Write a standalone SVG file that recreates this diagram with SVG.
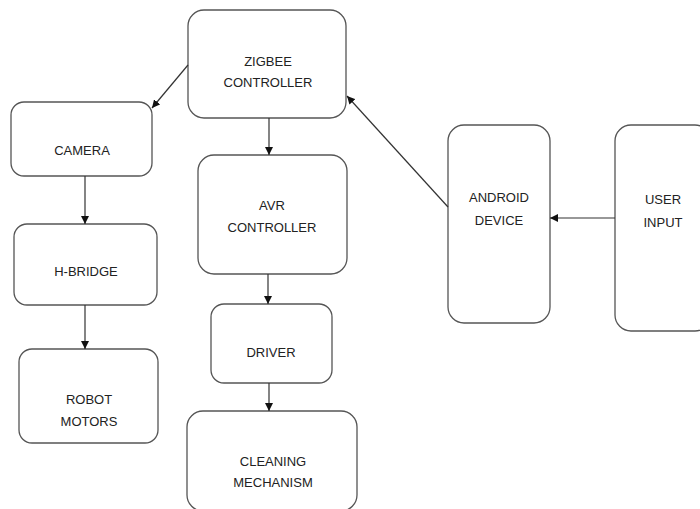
<svg xmlns="http://www.w3.org/2000/svg" width="700" height="509" viewBox="0 0 700 509">
<defs>
<style>
.box{fill:#fff;stroke:#555;stroke-width:1.3}
.lbl{font-family:"Liberation Sans",Arial,sans-serif;font-size:13px;fill:#222;text-anchor:middle}
.con{stroke:#333;stroke-width:1.2;fill:none}
</style>
<marker id="ah" viewBox="0 0 10 10" refX="10" refY="5" markerWidth="8" markerHeight="8" markerUnits="userSpaceOnUse" orient="auto">
<path d="M0,0 L10,5 L0,10 z" fill="#111"/>
</marker>
</defs>
<rect width="700" height="509" fill="#fff"/>
<g id="zigbee"><rect class="box" x="188" y="10" width="158" height="108" rx="16"/><text class="lbl" x="268" y="66">ZIGBEE</text><text class="lbl" x="268" y="87">CONTROLLER</text></g>
<g id="camera"><rect class="box" x="11" y="102" width="141" height="74" rx="13"/><text class="lbl" x="82" y="155">CAMERA</text></g>
<g id="hbridge"><rect class="box" x="14" y="224" width="143" height="81" rx="13"/><text class="lbl" x="86" y="276">H-BRIDGE</text></g>
<g id="robot"><rect class="box" x="19" y="349" width="139" height="94" rx="13"/><text class="lbl" x="89" y="404">ROBOT</text><text class="lbl" x="89" y="426">MOTORS</text></g>
<g id="avr"><rect class="box" x="198" y="155" width="149" height="119" rx="16"/><text class="lbl" x="272" y="210">AVR</text><text class="lbl" x="272" y="232">CONTROLLER</text></g>
<g id="driver"><rect class="box" x="211" y="304" width="121" height="79" rx="13"/><text class="lbl" x="271" y="357">DRIVER</text></g>
<g id="cleaning"><rect class="box" x="187" y="411" width="170" height="100" rx="16"/><text class="lbl" x="273" y="466">CLEANING</text><text class="lbl" x="273" y="487">MECHANISM</text></g>
<g id="android"><rect class="box" x="448" y="125" width="102" height="198" rx="16"/><text class="lbl" x="499" y="202">ANDROID</text><text class="lbl" x="499" y="225">DEVICE</text></g>
<g id="user"><rect class="box" x="615" y="125" width="96" height="206" rx="16"/><text class="lbl" x="663" y="204">USER</text><text class="lbl" x="663" y="227">INPUT</text></g>
<g id="connectors">
<line class="con" x1="188" y1="65" x2="152" y2="108" marker-end="url(#ah)"/>
<line class="con" x1="269" y1="118" x2="269" y2="155" marker-end="url(#ah)"/>
<line class="con" x1="85" y1="176" x2="85" y2="224" marker-end="url(#ah)"/>
<line class="con" x1="85" y1="305" x2="85" y2="349" marker-end="url(#ah)"/>
<line class="con" x1="268" y1="274" x2="268" y2="304" marker-end="url(#ah)"/>
<line class="con" x1="269" y1="383" x2="269" y2="411" marker-end="url(#ah)"/>
<line class="con" x1="448" y1="207" x2="347" y2="96" marker-end="url(#ah)"/>
<line class="con" x1="615" y1="218" x2="550" y2="218" marker-end="url(#ah)"/>
</g>
</svg>
